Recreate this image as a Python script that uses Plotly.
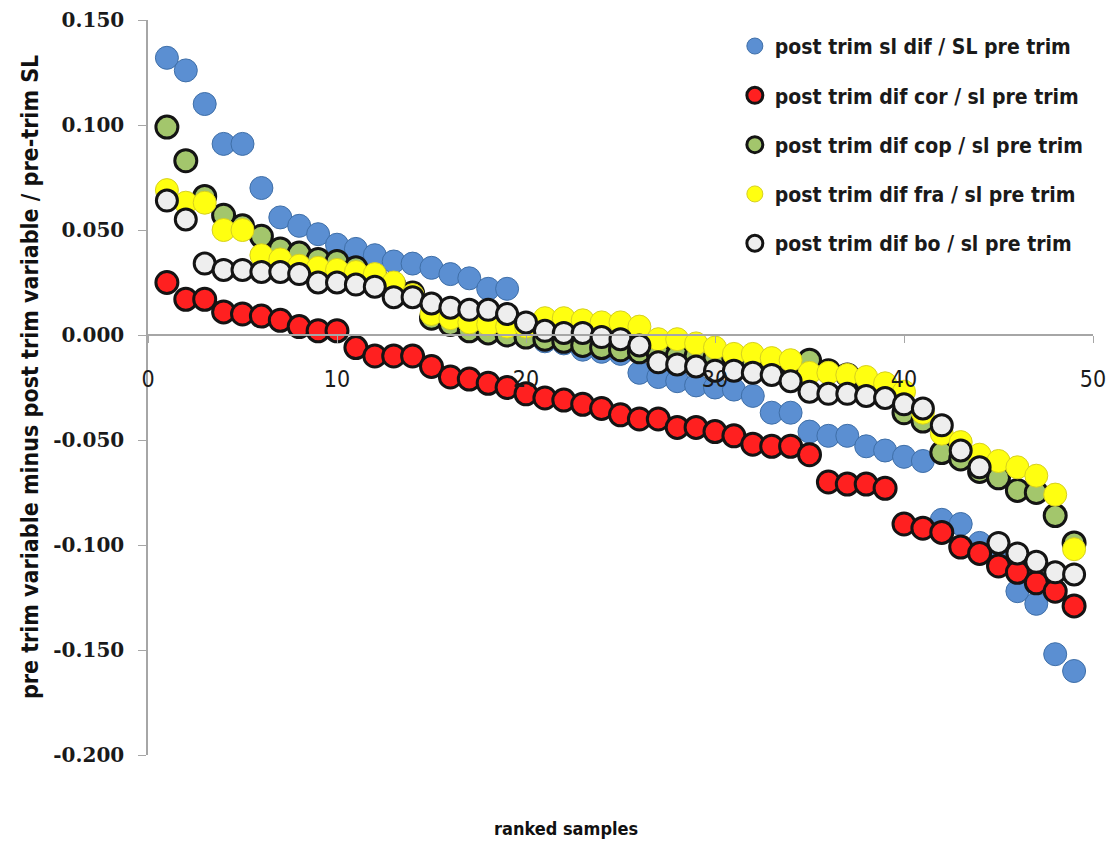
import plotly.graph_objects as go

samples = list(range(1, 50))

sl_dif = [0.132, 0.126, 0.110, 0.091, 0.091, 0.070, 0.056, 0.052, 0.048, 0.043,
          0.041, 0.038, 0.035, 0.034, 0.032, 0.029, 0.027, 0.022, 0.022, -0.001,
          -0.003, -0.004, -0.007, -0.008, -0.009, -0.018, -0.020, -0.022, -0.024, -0.025,
          -0.026, -0.029, -0.037, -0.037, -0.046, -0.048, -0.048, -0.053, -0.055, -0.058,
          -0.060, -0.088, -0.090, -0.099, -0.104, -0.122, -0.128, -0.152, -0.160]

cor_dif = [0.025, 0.017, 0.017, 0.011, 0.010, 0.009, 0.007, 0.004, 0.002, 0.002,
           -0.006, -0.010, -0.010, -0.010, -0.015, -0.020, -0.021, -0.023, -0.025, -0.028,
           -0.030, -0.031, -0.033, -0.035, -0.038, -0.040, -0.040, -0.044, -0.044, -0.046,
           -0.048, -0.052, -0.053, -0.053, -0.057, -0.070, -0.071, -0.071, -0.073, -0.090,
           -0.092, -0.094, -0.101, -0.104, -0.110, -0.113, -0.118, -0.122, -0.129]

cop_dif = [0.099, 0.083, 0.066, 0.057, 0.052, 0.047, 0.041, 0.039, 0.036, 0.035,
           0.032, 0.028, 0.024, 0.020, 0.008, 0.005, 0.002, 0.001, 0.000, -0.001,
           -0.002, -0.003, -0.005, -0.006, -0.007, -0.008, -0.009, -0.010, -0.010, -0.011,
           -0.011, -0.012, -0.012, -0.013, -0.012, -0.017, -0.019, -0.022, -0.027, -0.037,
           -0.041, -0.056, -0.059, -0.065, -0.068, -0.074, -0.075, -0.086, -0.099]

fra_dif = [0.069, 0.063, 0.063, 0.050, 0.050, 0.038, 0.036, 0.033, 0.032, 0.031,
           0.030, 0.029, 0.025, 0.019, 0.010, 0.008, 0.006, 0.005, 0.004, 0.004,
           0.008, 0.008, 0.007, 0.006, 0.006, 0.004, -0.002, -0.002, -0.004, -0.006,
           -0.009, -0.009, -0.011, -0.012, -0.018, -0.018, -0.019, -0.020, -0.023, -0.027,
           -0.037, -0.047, -0.051, -0.057, -0.060, -0.063, -0.067, -0.076, -0.102]

bo_dif = [0.064, 0.055, 0.034, 0.031, 0.031, 0.030, 0.030, 0.029, 0.025, 0.025,
          0.024, 0.023, 0.018, 0.018, 0.015, 0.013, 0.012, 0.012, 0.010, 0.006,
          0.002, 0.001, 0.001, -0.001, -0.002, -0.005, -0.013, -0.014, -0.015, -0.017,
          -0.017, -0.018, -0.019, -0.022, -0.027, -0.028, -0.028, -0.029, -0.030, -0.033,
          -0.035, -0.043, -0.055, -0.063, -0.099, -0.104, -0.108, -0.113, -0.114]

names = ["post trim sl dif / SL pre trim",
         "post trim dif cor / sl pre trim",
         "post trim dif cop / sl pre trim",
         "post trim dif fra / sl pre trim",
         "post trim dif bo / sl pre trim"]

x_ticks = [0, 10, 20, 30, 40, 50]
y_ticks = [0.15, 0.10, 0.05, 0.0, -0.05, -0.10, -0.15, -0.20]
y_tick_text = ["0.150", "0.100", "0.050", "0.000", "-0.050", "-0.100", "-0.150", "-0.200"]

styles = [
    dict(color="#5B8FD2", line=dict(color="#3F6FA8", width=1), size=23),
    dict(color="#FF2020", line=dict(color="#141414", width=3), size=22),
    dict(color="#A3C66C", line=dict(color="#141414", width=3), size=22),
    dict(color="#FFFF10", line=dict(color="#D6D020", width=1), size=23),
    dict(color="#EEEEEE", line=dict(color="#141414", width=3), size=21),
]

series = [sl_dif, cor_dif, cop_dif, fra_dif, bo_dif]

narrow = "Liberation Sans Narrow, DejaVu Sans Condensed, Arial Narrow, sans-serif"

fig = go.Figure()
for i, (name, vals, st) in enumerate(zip(names, series, styles)):
    fig.add_trace(go.Scatter(
        x=samples, y=vals, mode="markers", name=name,
        legendgroup=f"g{i}",
        marker=dict(symbol="circle", size=st["size"], color=st["color"], line=st["line"]),
    ))

y0_frac = 0.2 / 0.35

fig.update_layout(
    width=1115, height=843,
    margin=dict(l=140, r=30, t=12, b=96),
    plot_bgcolor="white", paper_bgcolor="white",
    showlegend=True,
    legend=dict(
        x=0.621, y=0.992, xanchor="left", yanchor="top",
        font=dict(family=narrow, size=21, color="#1a1a1a", weight="bold"),
        bgcolor="rgba(255,255,255,0)",
        tracegroupgap=19,
        itemsizing="trace",
    ),
    xaxis=dict(
        range=[0, 50], tickvals=x_ticks, ticktext=[str(v) for v in x_ticks],
        showgrid=False, zeroline=False, automargin=False,
        showline=True, linecolor="#A6A6A6", linewidth=1.5,
        ticks="outside", ticklen=7, tickcolor="#A6A6A6",
        anchor="free", position=y0_frac,
        ticklabelstandoff=17,
        tickfont=dict(family=narrow, size=23, color="#1a1a1a"),
    ),
    yaxis=dict(
        range=[-0.2, 0.15], tickvals=y_ticks, ticktext=y_tick_text,
        showgrid=False, zeroline=False, automargin=False,
        showline=True, linecolor="#A6A6A6", linewidth=1.5,
        ticks="outside", ticklen=8, tickcolor="#A6A6A6",
        ticklabelstandoff=10,
        tickfont=dict(family="DejaVu Serif, Liberation Serif, serif", size=20, color="#1a1a1a", weight="bold"),
    ),
    annotations=[
        dict(text="<b>pre trim variable minus post trim variable / pre-trim SL</b>",
             x=-0.125, y=0.514, xref="paper", yref="paper", textangle=-90,
             xanchor="center", yanchor="middle",
             showarrow=False, font=dict(family=narrow, size=23, color="#111111")),
        dict(text="<b>ranked samples</b>",
             x=0.442, y=(755 - 828) / 735.0, xref="paper", yref="paper", showarrow=False,
             xanchor="center", yanchor="middle",
             font=dict(family=narrow, size=18, color="#111111")),
    ],
)

fig.write_html("out.html")
